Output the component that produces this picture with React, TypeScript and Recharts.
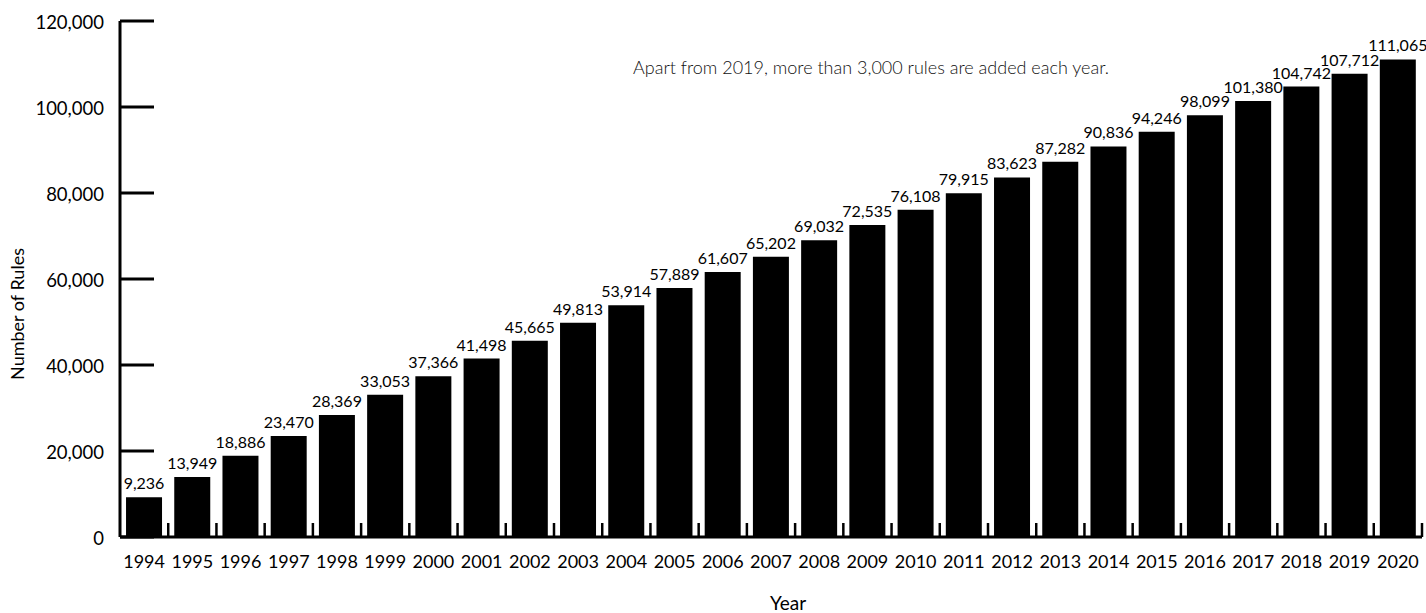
import React from 'react';
import { BarChart, Bar, XAxis, YAxis, LabelList } from 'recharts';

const years: string[] = [
  '1994', '1995', '1996', '1997', '1998', '1999', '2000', '2001', '2002',
  '2003', '2004', '2005', '2006', '2007', '2008', '2009', '2010', '2011',
  '2012', '2013', '2014', '2015', '2016', '2017', '2018', '2019', '2020',
];
const rules: number[] = [
  9236, 13949, 18886, 23470, 28369, 33053, 37366, 41498, 45665,
  49813, 53914, 57889, 61607, 65202, 69032, 72535, 76108, 79915,
  83623, 87282, 90836, 94246, 98099, 101380, 104742, 107712, 111065,
];
const yTicks: number[] = [0, 20000, 40000, 60000, 80000, 100000, 120000];
const note = 'Apart from 2019, more than 3,000 rules are added each year.';
const xTitle = 'Year';
const yTitle = 'Number of Rules';

const data = years.map((y, i) => ({ year: y, rules: rules[i] }));

const FONT = 'Lato, "Open Sans", sans-serif';
const fmt = (v: number) => v.toLocaleString('en-US');

const CHART_W = 1426;
const CHART_H = 613;
const Y_AXIS_W = 120;
const RIGHT_M = 4;
const HALF_BAND = (CHART_W - Y_AXIS_W - RIGHT_M) / years.length / 2;

const YTick = (props: any) => {
  const { x, y, payload } = props;
  return (
    <g>
      <line x1={x} x2={x + 34} y1={y} y2={y} stroke="#000" strokeWidth={3} />
      <text x={x - 16} y={y + 8} textAnchor="end" fontSize={18.5} fontFamily={FONT} fill="#000">
        {fmt(payload.value)}
      </text>
    </g>
  );
};

const XTick = (props: any) => {
  const { x, y, payload } = props;
  return (
    <g>
      <line x1={x + HALF_BAND} x2={x + HALF_BAND} y1={y} y2={y - 14} stroke="#000" strokeWidth={2.5} />
      <text x={x} y={y + 31} textAnchor="middle" fontSize={18} fontFamily={FONT} fill="#000">
        {payload.value}
      </text>
    </g>
  );
};

export default function App() {
  return (
    <div style={{ position: 'absolute', left: 0, top: 0, width: CHART_W, height: CHART_H, background: '#fff' }}>
      <BarChart
        width={CHART_W}
        height={CHART_H}
        data={data}
        margin={{ top: 21, right: RIGHT_M, left: 0, bottom: 0 }}
        barCategoryGap="12.5%"
      >
        <XAxis
          dataKey="year"
          height={76}
          axisLine={{ stroke: '#000', strokeWidth: 3 }}
          tickLine={false}
          tickSize={0}
          tickMargin={0}
          interval={0}
          tick={<XTick />}
          label={{
            content: () => (
              <text x={788} y={610} textAnchor="middle" fontSize={19} fontFamily={FONT} fill="#000">
                {xTitle}
              </text>
            ),
          }}
        />
        <YAxis
          width={Y_AXIS_W}
          domain={[0, 120000]}
          ticks={yTicks}
          interval={0}
          axisLine={{ stroke: '#000', strokeWidth: 3 }}
          tickLine={false}
          tickSize={0}
          tickMargin={0}
          tick={<YTick />}
          label={{
            content: () => (
              <text
                x={24}
                y={314}
                transform="rotate(-90 24 314)"
                textAnchor="middle"
                fontSize={18}
                fontFamily={FONT}
                fill="#000"
              >
                {yTitle}
              </text>
            ),
          }}
        />
        <Bar dataKey="rules" fill="#000" isAnimationActive={false}>
          <LabelList
            dataKey="rules"
            position="top"
            offset={8}
            formatter={(v: any) => fmt(Number(v))}
            style={{ fontSize: 16, fontFamily: FONT, fill: '#000' }}
          />
        </Bar>
      </BarChart>
      <div
        style={{
          position: 'absolute',
          left: 633,
          top: 57,
          fontFamily: FONT,
          fontWeight: 300,
          fontSize: 18,
          color: '#111',
          whiteSpace: 'nowrap',
          lineHeight: '20px',
        }}
      >
        {note}
      </div>
    </div>
  );
}
